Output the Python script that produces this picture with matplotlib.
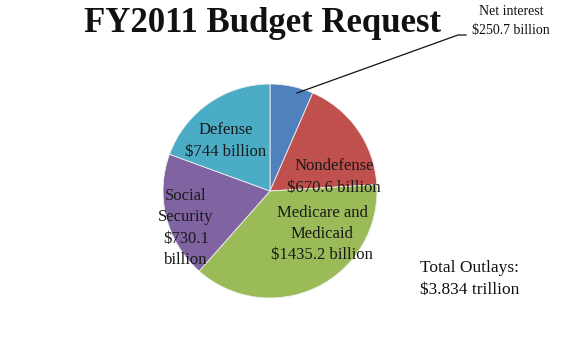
import matplotlib.pyplot as plt

# FY2011 outlays, billions of dollars (clockwise from 12 o'clock)
names = ["Net interest", "Nondefense", "Medicare and Medicaid", "Social Security", "Defense"]
values = [250.7, 670.6, 1435.2, 730.1, 744.0]
colors = ["#4F81BD", "#C0504D", "#9BBB59", "#8064A2", "#4BACC6"]

labels = {
    "Nondefense": (334, 177, "Nondefense\n$670.6 billion"),
    "Medicare and Medicaid": (322, 234, "Medicare and\nMedicaid\n$1435.2 billion"),
    "Social Security": (186, 228, "Social\nSecurity\n$730.1\nbillion"),
    "Defense": (226, 141, "Defense\n$744 billion"),
}

W, H = 570, 352
plt.rcParams['font.family'] = ['Liberation Serif', 'DejaVu Serif']

fig = plt.figure(figsize=(W / 100, H / 100), dpi=100)
ax = fig.add_axes([0, 0, 1, 1])

def Y(y):
    # picture rows run downwards
    return H - y

cx, cy, r = 270, 191, 107
ax.pie(values, colors=colors, startangle=90, counterclock=False,
       center=(cx, Y(cy)), radius=r, frame=True,
       wedgeprops=dict(edgecolor="#f0f0f0", linewidth=0.6))
ax.set_xlim(0, W)
ax.set_ylim(0, H)
ax.set_aspect('equal')
ax.axis('off')

ax.text(263, Y(24), "FY2011 Budget Request", ha="center", va="center",
        fontsize=25, fontweight="bold", color="#111111")

for name in names[1:]:
    x, y, s = labels[name]
    ax.text(x, Y(y), s, ha="center", va="center", fontsize=12,
            color="#1a1a1a", linespacing=1.45)

# net interest callout
ax.text(511, Y(21), "Net interest\n$250.7 billion", ha="center", va="center",
        fontsize=10, color="#111111", linespacing=1.55)
ax.plot([297, 458, 466], [Y(93), Y(35), Y(35)], color="#111111", lw=0.9)

ax.text(420, Y(279), "Total Outlays:\n$3.834 trillion", ha="left", va="center",
        fontsize=12.5, color="#111111", linespacing=1.45)

fig.savefig("out.png", dpi=100, facecolor="white")
